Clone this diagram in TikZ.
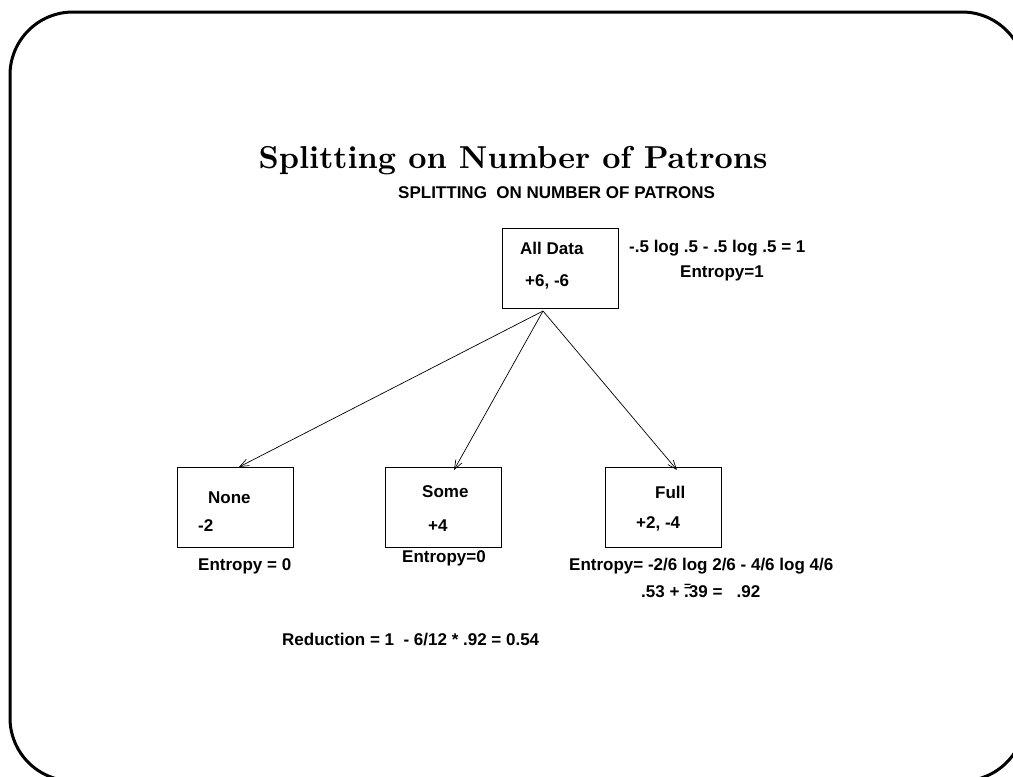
\documentclass[tikz,border=0pt]{standalone}
\usepackage{fontspec}
\newfontfamily\hv{Liberation Sans}
\newfontfamily\lmtenbf{lmroman10-bold.otf}
\usetikzlibrary{arrows.meta}
\begin{document}
\begin{tikzpicture}[x=1pt,y=-1pt,
  lbl/.style={font=\hv\bfseries\fontsize{17}{20}\selectfont, inner sep=0pt, anchor=west},
  box/.style={draw, line width=1pt, minimum width=116pt, minimum height=80pt, inner sep=0pt},
  link/.style={-{Straight Barb[length=9pt,width=7pt]}, line width=0.7pt}]
\useasboundingbox (0,0) rectangle (1013,777);
\clip (0,0) rectangle (1013,777);
% slide frame
\draw[line width=3pt, rounded corners=63pt] (10,12) rectangle (1025,781);

% titles
\node[inner sep=0pt, font=\lmtenbf\fontsize{31.7}{36}\selectfont] (title) at (513,161) {Splitting on Number of Patrons};
\node[lbl] (sub) at (398,193) {SPLITTING\ \ ON NUMBER OF PATRONS};

% tree boxes
\node[box] (all) at (560,268) {};
\node[box] (none) at (235,507) {};
\node[box] (some) at (443.5,507) {};
\node[box] (full) at (663.5,507) {};

% box contents
\node[lbl] (allname) at (520,248) {All Data};
\node[lbl] (allcount) at (525,282) {+6, -6};
\node[lbl] (nonename) at (208,498) {None};
\node[lbl] (nonecount) at (198,526) {-2};
\node[lbl] (somename) at (422,492) {Some};
\node[lbl] (somecount) at (428,526) {+4};
\node[lbl] (fullname) at (655,492) {Full};
\node[lbl] (fullcount) at (636,524) {+2, -4};

% entropy notes
\node[lbl] (allformula) at (629,248) {-.5 log .5 - .5 log .5 = 1};
\node[lbl] (allentropy) at (680,273) {Entropy=1};
\node[lbl] (noneentropy) at (198,566) {Entropy = 0};
\node[lbl] (someentropy) at (402,558) {Entropy=0};
\node[lbl] (fullformula) at (569,566) {Entropy= -2/6 log 2/6 - 4/6 log 4/6};
\node[lbl] (fullsum) at (641,591) {.53 + \rlap{\raisebox{7pt}{\fontsize{12}{12}\selectfont=}}.39 =\ \ \ .92};
\node[lbl] (reduction) at (282,640) {Reduction = 1\ \ - 6/12 * .92 = 0.54};

% branches
\coordinate (fork) at (543,311);
\coordinate (tipnone) at (239,467);
\coordinate (tipsome) at (454,470);
\coordinate (tipfull) at (677,470);
\draw[link] (fork) -- (tipnone);
\draw[link] (fork) -- (tipsome);
\draw[link] (fork) -- (tipfull);
\end{tikzpicture}
\end{document}
